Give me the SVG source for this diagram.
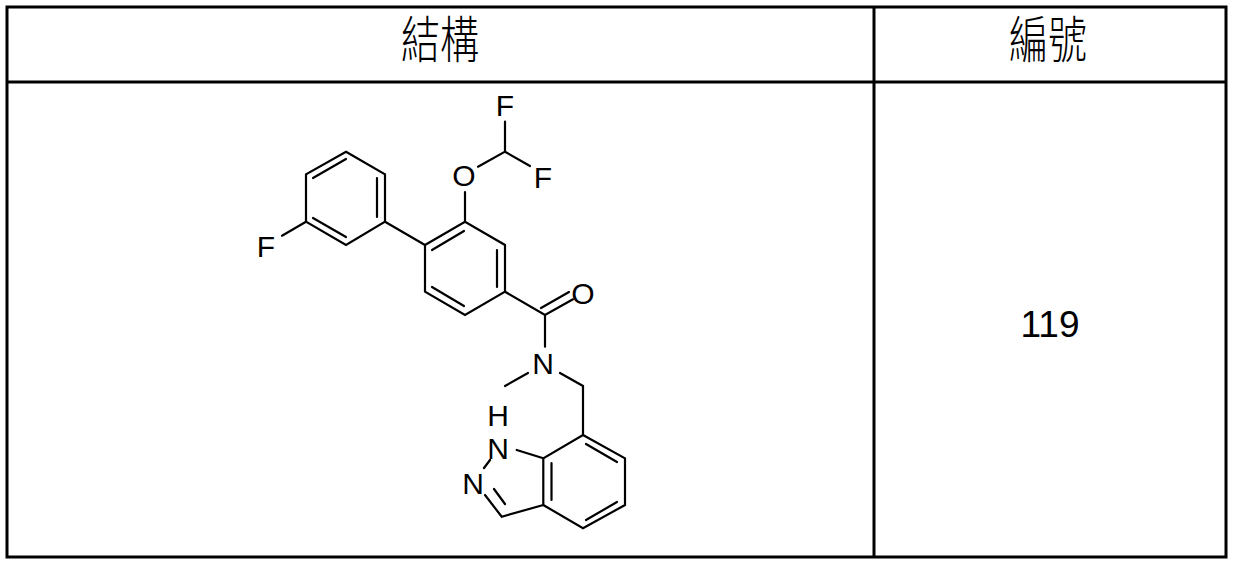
<svg xmlns="http://www.w3.org/2000/svg" width="1239" height="567" viewBox="0 0 1239 567">
<style>
.t{stroke:#000;stroke-width:3;fill:none}
.b{stroke:#000;stroke-width:2.2;fill:none;stroke-linecap:round}
.a{font-family:"Liberation Sans",Arial,sans-serif;font-size:30px;fill:#000;text-anchor:middle}
.h{font-family:"Noto Sans CJK TC","Noto Sans CJK SC",sans-serif;font-size:50px;font-weight:300;fill:#000;text-anchor:middle}
</style>
<rect width="1239" height="567" fill="#fff"/>
<g id="table">
<rect class="t" x="7" y="7" width="1219" height="550"/>
<line class="t" x1="7" y1="82" x2="1226" y2="82"/>
<line class="t" x1="874" y1="7" x2="874" y2="557"/>
<text class="h" x="440" y="58" transform="translate(440,0) scale(0.78,1) translate(-440,0)">結構</text>
<text class="h" x="1048" y="58" transform="translate(1048,0) scale(0.78,1) translate(-1048,0)">編號</text>
<text class="a" x="1050" y="337" style="font-size:37px">119</text>
</g>
<g id="molecule">
<path class="b" d="M346,151.7 L385,174.3 L385,221.7 L346,245 L306,221.7 L306,174.3 Z"/>
<path class="b" d="M313,178 L346,159 M377,178 L377,217 M313,218 L346,237"/>
<path class="b" d="M306,221.7 L282,235.7"/>
<path class="b" d="M385,221.7 L425,245"/>
<path class="b" d="M425,245 L465,221.7 L505,245 L505,291.7 L465,315 L425,291.7 Z"/>
<path class="b" d="M432,250 L464,231 M497,250 L497,287 M432,287 L464,306"/>
<path class="b" d="M465,221.7 L465,192 M478,166.7 L505,151.7 L505,121.7 M505,151.7 L530,166"/>
<path class="b" d="M505,291.7 L545,315 L573,299.3 M541,308 L569,292 M545,315 L545,346.7"/>
<path class="b" d="M528,373 L505,386 M560,373 L583,386 L583,435"/>
<path class="b" d="M583,435 L625,458.3 L625,505 L583,528.3 L543.3,505 L543.3,458.3 Z"/>
<path class="b" d="M586,444 L617,462 M586,520 L617,502 M551.5,463 L551.5,500"/>
<path class="b" d="M543.3,458.3 L516.7,450 M490,460 L484,468 M485,495 L501.7,516.7 L543.3,505 M494,489 L505,504"/>
<text class="a" x="505" y="116">F</text>
<text class="a" x="543" y="188">F</text>
<text class="a" x="464" y="186">O</text>
<text class="a" x="266" y="257">F</text>
<text class="a" x="583" y="304">O</text>
<text class="a" x="543" y="374">N</text>
<text class="a" x="498" y="426">H</text>
<text class="a" x="498" y="459">N</text>
<text class="a" x="473" y="494">N</text>
</g>
</svg>
